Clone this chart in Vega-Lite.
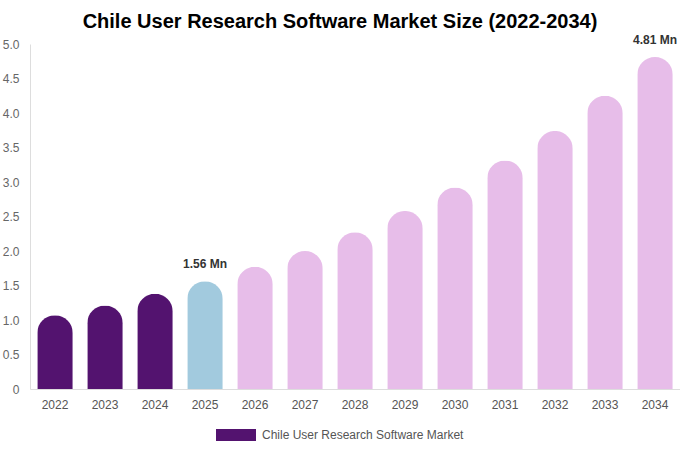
{
  "$schema": "https://vega.github.io/schema/vega-lite/v6.json",
  "width": 650,
  "height": 345,
  "autosize": "none",
  "padding": {"left": 30, "top": 44, "right": 0, "bottom": 61},
  "config": {
    "font": "Liberation Sans",
    "view": {"stroke": null}
  },
  "title": {
    "text": "Chile User Research Software Market Size (2022-2034)",
    "fontSize": 20,
    "fontWeight": "bold",
    "color": "#000000",
    "dx": -15,
    "offset": 2
  },
  "data": {
    "values": [
      {"year": "2022", "value": 1.07, "phase": "hist", "label": ""},
      {"year": "2023", "value": 1.21, "phase": "hist", "label": ""},
      {"year": "2024", "value": 1.38, "phase": "hist", "label": ""},
      {"year": "2025", "value": 1.56, "phase": "base", "label": "1.56 Mn"},
      {"year": "2026", "value": 1.77, "phase": "fcst", "label": ""},
      {"year": "2027", "value": 2.0, "phase": "fcst", "label": ""},
      {"year": "2028", "value": 2.27, "phase": "fcst", "label": ""},
      {"year": "2029", "value": 2.58, "phase": "fcst", "label": ""},
      {"year": "2030", "value": 2.92, "phase": "fcst", "label": ""},
      {"year": "2031", "value": 3.31, "phase": "fcst", "label": ""},
      {"year": "2032", "value": 3.74, "phase": "fcst", "label": ""},
      {"year": "2033", "value": 4.25, "phase": "fcst", "label": ""},
      {"year": "2034", "value": 4.81, "phase": "fcst", "label": "4.81 Mn"}
    ]
  },
  "encoding": {
    "x": {
      "field": "year", "type": "ordinal", "title": null,
      "scale": {"paddingInner": 0.29, "paddingOuter": 0.145},
      "axis": {"labelAngle": 0, "ticks": false, "labelPadding": 10, "labelFontSize": 12, "labelColor": "#555555", "domainColor": "#dddddd"}
    },
    "y": {
      "field": "value", "type": "quantitative", "title": null,
      "scale": {"domain": [0, 5], "nice": false},
      "axis": {"values": [0, 0.5, 1, 1.5, 2, 2.5, 3, 3.5, 4, 4.5, 5], "labelExpr": "datum.value == 0 ? '0' : format(datum.value, '.1f')", "grid": false, "ticks": false, "labelPadding": 11, "labelFontSize": 12, "labelColor": "#666666", "domainColor": "#dddddd"}
    }
  },
  "layer": [
    {
      "mark": {"type": "bar", "cornerRadiusTopLeft": 18, "cornerRadiusTopRight": 18},
      "encoding": {
        "color": {
          "field": "phase", "type": "nominal",
          "scale": {"domain": ["hist", "base", "fcst"], "range": ["#53136f", "#a2cade", "#e7bde9"]},
          "legend": {
            "orient": "none", "legendX": 186, "legendY": 371, "title": null,
            "values": ["hist"],
            "labelExpr": "'Chile User Research Software Market'",
            "labelLimit": 400,
            "symbolType": "M-1,-0.3H1V0.3H-1Z", "symbolSize": 1600, "symbolStrokeWidth": 0,
            "labelFontSize": 12, "labelColor": "#555555", "labelOffset": 6
          }
        }
      }
    },
    {
      "transform": [{"filter": "datum.label != ''"}],
      "mark": {"type": "text", "baseline": "bottom", "dy": -10, "fontSize": 12, "fontWeight": "bold", "color": "#333333"},
      "encoding": {"text": {"field": "label"}}
    }
  ]
}
